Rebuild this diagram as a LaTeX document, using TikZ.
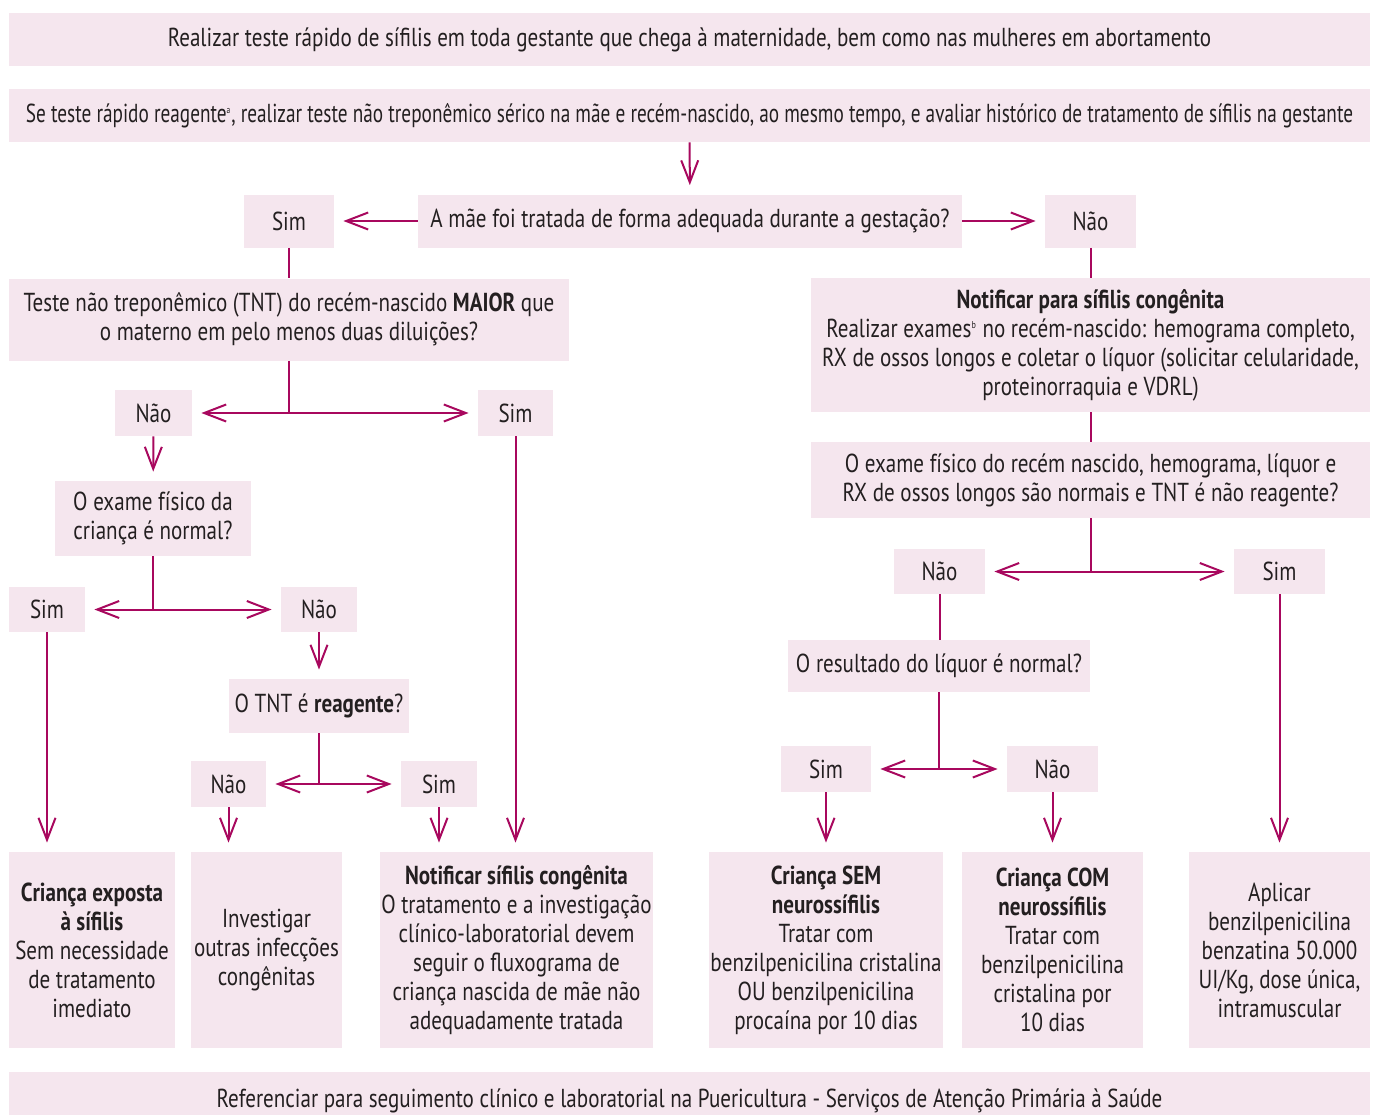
\documentclass[tikz,border=0pt]{standalone}
\usepackage{fontspec}
\setmainfont{PT Sans}[FakeStretch=0.81]
\usetikzlibrary{arrows.meta}
\definecolor{caixa}{RGB}{245,230,238}
\definecolor{seta}{RGB}{168,8,94}
\definecolor{texto}{RGB}{35,31,32}
\begin{document}
\begin{tikzpicture}[x=0.5pt,y=-0.5pt]
  \tikzstyle{box}=[fill=caixa,text=texto,align=center,inner sep=0pt,
                   font=\fontsize{13}{14.5}\selectfont]
  \tikzstyle{line}=[draw=seta,line width=1pt]
  \tikzstyle{arr}=[line,-{Straight Barb[length=11pt,width=8.5pt,line width=1pt]},shorten >=4.5pt]
  \useasboundingbox (0,0) rectangle (1378,1115);
  \clip (0,0) rectangle (1378,1115);
  % topo
  \node[box,minimum width=680.5pt,minimum height=26.5pt] (teste) at (689.5,39.5)
    {Realizar teste rápido de sífilis em toda gestante que chega à maternidade, bem como nas mulheres em abortamento};
  \node[box,minimum width=680.5pt,minimum height=26.5pt] (rapido) at (689.5,115.5)
    {\scalebox{0.915}[1]{Se teste rápido reagente\textsuperscript{\tiny a}, realizar teste não treponêmico sérico na mãe e recém-nascido, ao mesmo tempo, e avaliar histórico de tratamento de sífilis na gestante}};
  \node[box,minimum width=272pt,minimum height=26.5pt] (mae) at (690,221)
    {A mãe foi tratada de forma adequada durante a gestação?};
  \node[box,minimum width=45pt,minimum height=26.5pt] (simMae) at (289,221) {Sim};
  \node[box,minimum width=45.5pt,minimum height=26.5pt] (naoMae) at (1090.5,221) {Não};
  % ramo esquerdo
  \node[box,minimum width=280pt,minimum height=41pt] (tnt) at (289,319.5)
    {Teste não treponêmico (TNT) do recém-nascido \textbf{MAIOR} que\\o materno em pelo menos duas diluições?};
  \node[box,minimum width=38.5pt,minimum height=23pt] (naoTnt) at (153.5,413) {Não};
  \node[box,minimum width=37.5pt,minimum height=23pt] (simTnt) at (515.5,413) {Sim};
  \node[box,minimum width=98pt,minimum height=37.5pt] (exame) at (153,518.5)
    {O exame físico da\\criança é normal?};
  \node[box,minimum width=38pt,minimum height=22.5pt] (simExame) at (47,609.5) {Sim};
  \node[box,minimum width=38pt,minimum height=22.5pt] (naoExame) at (319,609.5) {Não};
  \node[box,minimum width=90pt,minimum height=27pt] (reag) at (319,706)
    {O TNT é \textbf{reagente}?};
  \node[box,minimum width=37.5pt,minimum height=23pt] (naoReag) at (228.5,784) {Não};
  \node[box,minimum width=38pt,minimum height=23pt] (simReag) at (439,784) {Sim};
  % ramo direito
  \node[box,minimum width=279.5pt,minimum height=67pt] (notif) at (1090.5,345)
    {\textbf{Notificar para sífilis congênita}\\Realizar exames\textsuperscript{\tiny b} no recém-nascido: hemograma completo,\\RX de ossos longos e coletar o líquor (solicitar celularidade,\\proteinorraquia e VDRL)};
  \node[box,minimum width=279.5pt,minimum height=38pt] (exame2) at (1090.5,480)
    {O exame físico do recém nascido, hemograma, líquor e\\RX de ossos longos são normais e TNT é não reagente?};
  \node[box,minimum width=45.5pt,minimum height=22.5pt] (naoEx2) at (939.5,571.5) {Não};
  \node[box,minimum width=45.5pt,minimum height=22.5pt] (simEx2) at (1279.5,571.5) {Sim};
  \node[box,minimum width=151pt,minimum height=26pt] (liquor) at (939,666)
    {O resultado do líquor é normal?};
  \node[box,minimum width=45pt,minimum height=23pt] (simLiq) at (826,769) {Sim};
  \node[box,minimum width=45.5pt,minimum height=23pt] (naoLiq) at (1052.5,769) {Não};
  % desfechos
  \node[box,minimum width=83pt,minimum height=98pt] (exposta) at (92,950)
    {\textbf{Criança exposta}\\\textbf{à sífilis}\\Sem necessidade\\de tratamento\\imediato};
  \node[box,minimum width=75.5pt,minimum height=98pt] (outras) at (266.5,950)
    {Investigar\\outras infecções\\congênitas};
  \node[box,minimum width=136.5pt,minimum height=98pt] (notifC) at (516.5,950)
    {\textbf{Notificar sífilis congênita}\\O tratamento e a investigação\\clínico-laboratorial devem\\seguir o fluxograma de\\criança nascida de mãe não\\adequadamente tratada};
  \node[box,minimum width=117pt,minimum height=98pt] (semNeuro) at (826,950)
    {\textbf{Criança SEM}\\\textbf{neurossífilis}\\Tratar com\\benzilpenicilina cristalina\\OU benzilpenicilina\\procaína por 10 dias};
  \node[box,minimum width=90.5pt,minimum height=98pt] (comNeuro) at (1052.5,950)
    {\textbf{Criança COM}\\\textbf{neurossífilis}\\Tratar com\\benzilpenicilina\\cristalina por\\10 dias};
  \node[box,minimum width=90.5pt,minimum height=98pt] (aplicar) at (1279.5,950)
    {Aplicar\\benzilpenicilina\\benzatina 50.000\\UI/Kg, dose única,\\intramuscular};
  \node[box,minimum width=680.5pt,minimum height=29pt] (ref) at (689.5,1101)
    {Referenciar para seguimento clínico e laboratorial na Puericultura - Serviços de Atenção Primária à Saúde};
  % conectores
  \draw[arr] (rapido) -- (mae);
  \draw[arr] (mae) -- (simMae);
  \draw[arr] (mae) -- (naoMae);
  \draw[line] (simMae) -- (tnt);
  \draw[line] (tnt) -- (tnt.south |- naoTnt) coordinate (jTnt);
  \draw[arr] (jTnt) -- (naoTnt);
  \draw[arr] (jTnt) -- (simTnt);
  \draw[arr] (naoTnt) -- (exame);
  \draw[line] (exame) -- (exame.south |- simExame) coordinate (jExame);
  \draw[arr] (jExame) -- (simExame);
  \draw[arr] (jExame) -- (naoExame);
  \draw[arr] (naoExame) -- (reag);
  \draw[line] (reag) -- (reag.south |- naoReag) coordinate (jReag);
  \draw[arr] (jReag) -- (naoReag);
  \draw[arr] (jReag) -- (simReag);
  \draw[arr] (simExame) -- (simExame |- exposta.north);
  \draw[arr] (naoReag) -- (naoReag |- outras.north);
  \draw[arr] (simReag) -- (simReag |- notifC.north);
  \draw[arr] (simTnt) -- (simTnt |- notifC.north);
  \draw[line] (naoMae) -- (notif);
  \draw[line] (notif) -- (exame2);
  \draw[line] (exame2) -- (exame2.south |- naoEx2) coordinate (jEx2);
  \draw[arr] (jEx2) -- (naoEx2);
  \draw[arr] (jEx2) -- (simEx2);
  \draw[line] (naoEx2) -- (naoEx2 |- liquor.north);
  \draw[line] (liquor) -- (liquor.south |- simLiq) coordinate (jLiq);
  \draw[arr] (jLiq) -- (simLiq);
  \draw[arr] (jLiq) -- (naoLiq);
  \draw[arr] (simLiq) -- (simLiq |- semNeuro.north);
  \draw[arr] (naoLiq) -- (naoLiq |- comNeuro.north);
  \draw[arr] (simEx2) -- (simEx2 |- aplicar.north);
\end{tikzpicture}
\end{document}
